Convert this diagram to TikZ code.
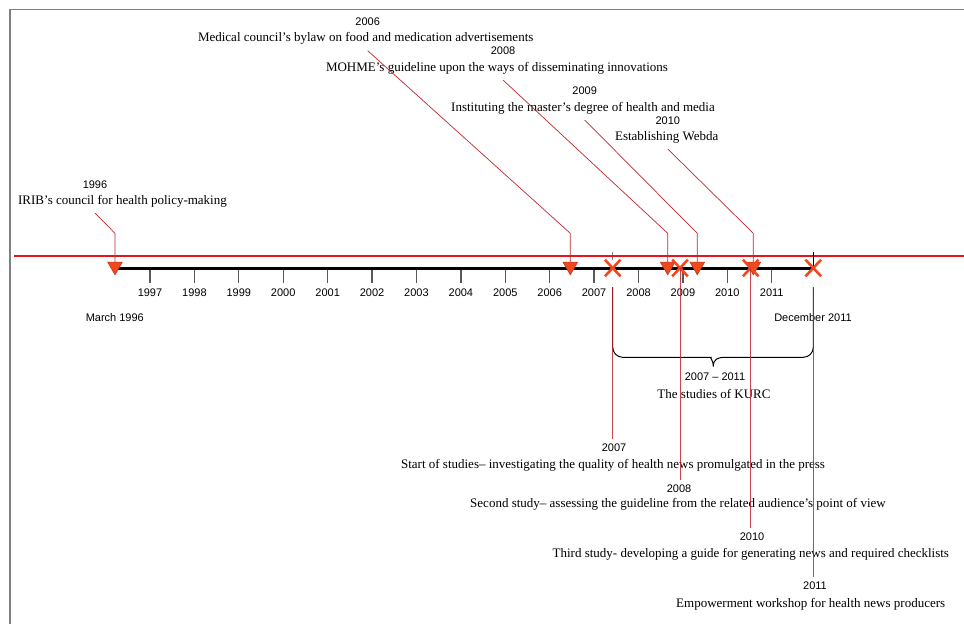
\documentclass[tikz,border=0pt]{standalone}
\usepackage{fontspec}
\setmainfont{Liberation Serif}
\setsansfont{Liberation Sans}
\usetikzlibrary{shapes.geometric,shapes.misc,positioning}
\definecolor{linered}{HTML}{E3161E}
\definecolor{calloutred}{HTML}{C1272D}
\definecolor{dropred}{HTML}{BE2430}
\definecolor{markfill}{HTML}{F0491F}
\definecolor{markedge}{HTML}{C9331A}

\begin{document}
\begin{tikzpicture}[x = 1pt, y = -1pt,
yearlbl/.style = {font = \sffamily\fontsize{11}{13}\selectfont, anchor = base, inner sep = 4pt},
desclbl/.style = {font = \fontsize{13}{15}\selectfont, anchor = base, inner sep = 6pt},
tri/.style = {regular polygon, regular polygon sides = 3, shape border rotate = 180, fill = markfill, draw = markedge, line width = 0.6pt, minimum size = 17pt, inner sep = 0pt},
xmark/.style = {cross out, draw = markfill, line width = 2.6pt, minimum width = 13pt, minimum height = 14pt, inner sep = 0pt},
callout/.style = {draw = calloutred, line width = 0.7pt},
drop/.style = {draw = dropred, line width = 1pt, opacity = 0.85}]
\useasboundingbox (0,0) rectangle (964,624);
\draw[gray, line width = 1.5pt] (10,624) -- (10,9.5) -- (964,9.5);
\draw[linered, line width = 1.8pt] (14,255.7) -- (964,255.7);
\foreach \yr [count = \i from 0] in {1997,...,2011} {
\draw[black!65, line width = 1.3pt] (150 + 44.41*\i, 268) -- ++(0,15);
\node[yearlbl] (tick\yr) at (150 + 44.41*\i, 296.6) {\yr};
}
\draw[line width = 2.6pt] (115,268.3) -- (813.3,268.3);
\draw[gray, densely dashed, line width = 0.8pt] (612.7,252) -- (612.7,262);
\draw[line width = 0.8pt] (813.3,252) -- (813.3,268);
\node[yearlbl] (start) at (114.8,321) {March 1996};
\node[yearlbl] (end) at (813,321) {December 2011};

\node[yearlbl] (y1996) at (95,188) {1996};
\node[desclbl] (d1996) at (122.5,204) {IRIB’s council for health policy-making};
\node[yearlbl] (y2006) at (367.7,25.6) {2006};
\node[desclbl] (d2006) at (365.7,41.7) {Medical council's bylaw on food and medication advertisements};
\node[yearlbl] (y2008) at (503,54.6) {2008};
\node[desclbl] (d2008) at (497,71) {MOHME's guideline upon the ways of disseminating innovations};
\node[yearlbl] (y2009) at (584.7,94) {2009};
\node[desclbl] (d2009) at (583,111) {Instituting the master’s degree of health and media};
\node[yearlbl] (y2010) at (667.8,124.7) {2010};
\node[desclbl] (d2010) at (666.7,140) {Establishing Webda};

\node[tri] (t1996) at (115,266.3) {};
\node[tri] (t2006) at (570.3,266.3) {};
\node[tri] (t2008) at (667.7,266.3) {};
\node[tri] (t2009) at (697.3,266.3) {};
\node[tri] (t2010) at (753.3,266.3) {};
\coordinate (e1996) at (115,233.3);
\coordinate (e2006) at (570.3,233.3);
\coordinate (e2008) at (667.7,233.3);
\coordinate (e2009) at (697.3,233.3);
\coordinate (e2010) at (753.3,233.3);
\foreach \ev in {1996,2006,2008,2009,2010}
\draw[callout] (y\ev |- d\ev.south) -- (e\ev) -- (t\ev.north);

\node[xmark] (x2007) at (612.7,268) {};
\node[xmark] (x2008) at (680,268) {};
\node[xmark] (x2010) at (750.7,268) {};
\node[xmark] (x2011) at (813.3,268) {};
\coordinate (bl) at (612.7,287);
\coordinate (br) at (813.3,287);
\coordinate (tip) at (713.3,366.7);
\draw[line width = 1pt] (bl) [rounded corners = 10pt] |- (701,357.3) [sharp corners] .. controls (709,357.3) and (713.3,359) .. (tip) .. controls (713.3,359) and (717.6,357.3) .. (725.6,357.3) [rounded corners = 10pt] -| (br);
\node[yearlbl] (span) at (715,380.6) {2007 – 2011};
\node[desclbl] (kurc) at (714,398) {The studies of KURC};

\node[yearlbl] (b2007) at (614,451) {2007};
\node[desclbl] (s2007) at (613,468) {Start of studies– investigating the quality of health news promulgated in the press};
\node[yearlbl] (b2008) at (679,492) {2008};
\node[desclbl] (s2008) at (678,507) {Second study– assessing the guideline from the related audience's point of view};
\node[yearlbl] (b2010) at (752,540) {2010};
\node[desclbl] (s2010) at (750.8,557) {Third study- developing a guide for generating news and required checklists};
\node[yearlbl] (b2011) at (815,589) {2011};
\node[desclbl] (s2011) at (810.7,607) {Empowerment workshop for health news producers};

\draw[drop] (bl) -- (bl |- b2007.north);
\draw[drop] (x2008.center) -- (x2008 |- b2008.north);
\draw[drop] (x2010.center) -- (x2010 |- b2010.north);
\draw[drop] (br) -- (br |- b2011.north);
\end{tikzpicture}
\end{document}
